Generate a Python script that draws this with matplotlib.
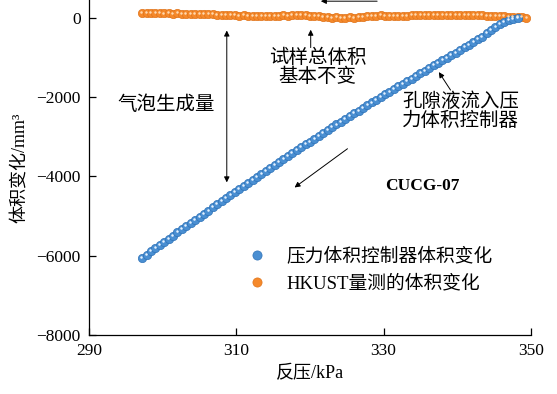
import matplotlib
matplotlib.use('Agg')
import matplotlib.pyplot as plt
from matplotlib.transforms import offset_copy

plt.rcParams['font.family'] = ['Liberation Serif', 'Noto Sans CJK SC']
plt.rcParams['axes.unicode_minus'] = True

# back pressure (kPa)
pressure = [297.2, 297.8, 298.4, 299.0, 299.6, 300.2, 300.8, 301.4, 302.0, 302.6,
            303.2, 303.8, 304.4, 305.0, 305.6, 306.2, 306.8, 307.4, 308.0, 308.6,
            309.2, 309.8, 310.4, 311.0, 311.6, 312.2, 312.8, 313.4, 314.0, 314.6,
            315.2, 315.8, 316.4, 317.0, 317.6, 318.2, 318.8, 319.4, 320.0, 320.6,
            321.2, 321.8, 322.4, 323.0, 323.6, 324.2, 324.8, 325.4, 326.0, 326.6,
            327.2, 327.8, 328.4, 329.0, 329.6, 330.2, 330.8, 331.4, 332.0, 332.6,
            333.2, 333.8, 334.4, 335.0, 335.6, 336.2, 336.8, 337.4, 338.0, 338.6,
            339.2, 339.8, 340.4, 341.0, 341.6, 342.2, 342.8, 343.4, 344.0, 344.6,
            345.2, 345.8, 346.4, 347.0, 347.6, 348.2, 348.8, 349.4]

# pressure/volume controller volume change (mm3)
controller = [-6050, -5970, -5890, -5810, -5730, -5650, -5570, -5490, -5410, -5330,
              -5255, -5175, -5100, -5020, -4940, -4860, -4780, -4705, -4625, -4550,
              -4470, -4395, -4315, -4240, -4160, -4085, -4010, -3935, -3860, -3785,
              -3710, -3635, -3560, -3485, -3410, -3340, -3265, -3190, -3120, -3045,
              -2975, -2905, -2830, -2760, -2690, -2620, -2550, -2480, -2410, -2340,
              -2270, -2205, -2135, -2065, -2000, -1930, -1865, -1795, -1730, -1665,
              -1595, -1530, -1465, -1400, -1330, -1265, -1200, -1135, -1070, -1005,
              -940, -875, -810, -745, -680, -615, -545, -480, -390, -310,
              -235, -165, -105, -60, -25, -5]

# HKUST measured volume change (mm3)
hkust = [125, 120, 130, 115, 120, 110, 118, 105, 112,
         100, 108, 95, 102, 90, 95, 85, 88, 80, 75,
         70, 65, 72, 58, 60, 50, 48, 40, 42, 35,
         40, 45, 52, 60, 55, 65, 70, 62, 60, 55,
         45, 35, 20, 15, 5, 10, 0, 8, 15, 5,
         20, 30, 40, 48, 55, 62, 58, 50, 45, 40,
         48, 55, 62, 70, 75, 70, 78, 72, 80, 75,
         70, 78, 72, 80, 75, 68, 72, 65, 60, 55,
         50, 45, 40, 35, 30, 20, 15, 10, 0]

blue = '#4a8fd2'
orange = '#f5892b'

fig = plt.figure(figsize=(5.57, 3.94), dpi=100)
ax = fig.add_axes([0.16, 0.1497, 0.793, 0.8503])

hi = offset_copy(ax.transData, fig=fig, x=-0.6, y=0.7, units='points')
ax.plot(pressure, hkust, 'o', ms=6, color=orange, mec='#e0741a', mew=0.5,
        label='HKUST量测的体积变化', zorder=3)
ax.plot(pressure, hkust, 'o', ms=1.8, color='#ffd9b0', mew=0, transform=hi, zorder=4)
ax.plot(pressure[:len(controller)], controller, 'o', ms=6, color=blue, mec='#2f73b8',
        mew=0.5, label='压力体积控制器体积变化', zorder=3)
ax.plot(pressure[:len(controller)], controller, 'o', ms=1.8, color='#e6f2ff', mew=0,
        transform=hi, zorder=4)

ax.set_xlim(290, 350)
ax.set_ylim(-8000, 450)
ax.set_xticks([290, 310, 330, 350])
ax.set_yticks([0, -2000, -4000, -6000, -8000])
for s in ['top', 'right']:
    ax.spines[s].set_visible(False)
for s in ['left', 'bottom']:
    ax.spines[s].set_linewidth(0.9)
ax.tick_params(direction='in', length=5, width=0.9, labelsize=12.5, pad=6)

ax.set_xlabel('反压/kPa', fontsize=13, labelpad=4)
ax.set_ylabel('体积变化/mm³', fontsize=13, labelpad=6)

arrow = dict(arrowstyle='-|>', color='black', lw=0.7, mutation_scale=8)
ax.annotate('', xy=(308.7, -4220), xytext=(308.7, -250),
            arrowprops=dict(arrowstyle='<|-|>', color='black', lw=0.7, mutation_scale=8))
ax.text(300.5, -2200, '气泡生成量', fontsize=14, ha='center', va='center')
ax.annotate('', xy=(320.1, -230), xytext=(320.1, -820), arrowprops=arrow)
ax.text(321.0, -1250, '试样总体积\n基本不变', fontsize=14, ha='center', va='center',
        linespacing=1.05)
ax.annotate('', xy=(337.3, -1310), xytext=(339.3, -1880), arrowprops=arrow)
ax.text(340.5, -2350, '孔隙液流入压\n力体积控制器', fontsize=14, ha='center', va='center',
        linespacing=1.05)
ax.annotate('', xy=(317.6, -4320), xytext=(325.4, -3260), arrowprops=arrow)
ax.annotate('', xy=(321.1, 420), xytext=(329.5, 420), arrowprops=arrow,
            annotation_clip=False)
ax.text(335.2, -4240, 'CUCG-07', fontsize=12.5, fontweight='bold', ha='center', va='center')

handles, labels = ax.get_legend_handles_labels()
ax.legend(handles[::-1], labels[::-1], loc='upper left', bbox_to_anchor=(0.4445, 0.372),
          bbox_transform=fig.transFigure, frameon=False, fontsize=13.5,
          handlelength=1.0, handletextpad=1.05, labelspacing=0.5,
          borderpad=0, borderaxespad=0, markerscale=1.1)

fig.savefig('out.png', dpi=100)
